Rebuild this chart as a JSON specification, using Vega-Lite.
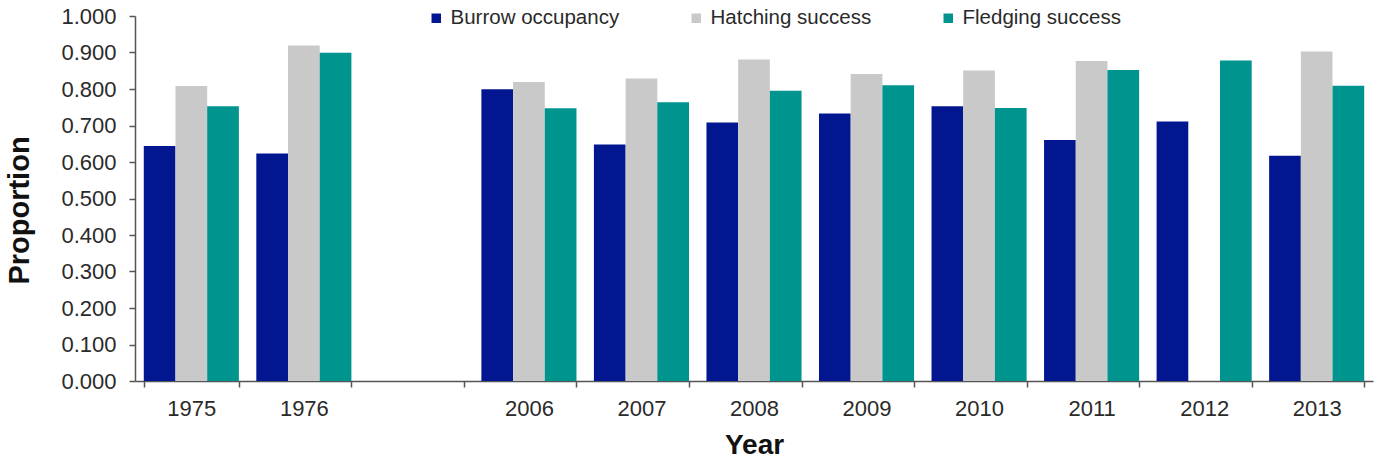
{
  "$schema": "https://vega.github.io/schema/vega-lite/v6.json",
  "autosize": "none",
  "width": 1238,
  "height": 365,
  "padding": {"left": 135, "top": 16, "right": 2, "bottom": 81},
  "background": "white",
  "config": {
    "font": "Liberation Sans",
    "view": {"stroke": null}
  },
  "data": {
    "values": [
      {"year": "1975", "series": "Burrow occupancy", "value": 0.644},
      {"year": "1975", "series": "Hatching success", "value": 0.808},
      {"year": "1975", "series": "Fledging success", "value": 0.753},
      {"year": "1976", "series": "Burrow occupancy", "value": 0.623},
      {"year": "1976", "series": "Hatching success", "value": 0.919},
      {"year": "1976", "series": "Fledging success", "value": 0.899},
      {"year": "2006", "series": "Burrow occupancy", "value": 0.799},
      {"year": "2006", "series": "Hatching success", "value": 0.819},
      {"year": "2006", "series": "Fledging success", "value": 0.747},
      {"year": "2007", "series": "Burrow occupancy", "value": 0.648},
      {"year": "2007", "series": "Hatching success", "value": 0.829},
      {"year": "2007", "series": "Fledging success", "value": 0.764},
      {"year": "2008", "series": "Burrow occupancy", "value": 0.708},
      {"year": "2008", "series": "Hatching success", "value": 0.881},
      {"year": "2008", "series": "Fledging success", "value": 0.795},
      {"year": "2009", "series": "Burrow occupancy", "value": 0.733},
      {"year": "2009", "series": "Hatching success", "value": 0.841},
      {"year": "2009", "series": "Fledging success", "value": 0.810},
      {"year": "2010", "series": "Burrow occupancy", "value": 0.753},
      {"year": "2010", "series": "Hatching success", "value": 0.851},
      {"year": "2010", "series": "Fledging success", "value": 0.748},
      {"year": "2011", "series": "Burrow occupancy", "value": 0.660},
      {"year": "2011", "series": "Hatching success", "value": 0.877},
      {"year": "2011", "series": "Fledging success", "value": 0.852},
      {"year": "2012", "series": "Burrow occupancy", "value": 0.711},
      {"year": "2012", "series": "Fledging success", "value": 0.878},
      {"year": "2013", "series": "Burrow occupancy", "value": 0.617},
      {"year": "2013", "series": "Hatching success", "value": 0.903},
      {"year": "2013", "series": "Fledging success", "value": 0.809}
    ]
  },
  "mark": {"type": "bar"},
  "encoding": {
    "x": {
      "field": "year",
      "type": "nominal",
      "scale": {
        "domain": ["1975", "1976", " ", "2006", "2007", "2008", "2009", "2010", "2011", "2012", "2013"],
        "paddingInner": 0.155,
        "paddingOuter": 0.078
      },
      "axis": {
        "title": "Year",
        "titleFont": "Liberation Sans",
        "titleFontSize": 28,
        "titleFontWeight": "bold",
        "titleColor": "#111",
        "titleBaseline": "top",
        "titleY": 50,
        "labelAngle": 0,
        "labelFontSize": 22,
        "labelColor": "#2a2a2a",
        "labelPadding": 11,
        "tickBand": "extent",
        "tickSize": 6,
        "tickColor": "#555",
        "domainColor": "#555",
        "domainWidth": 1.5,
        "tickWidth": 1.5
      }
    },
    "xOffset": {
      "field": "series",
      "type": "nominal",
      "scale": {"domain": ["Burrow occupancy", "Hatching success", "Fledging success"], "paddingInner": 0, "paddingOuter": 0}
    },
    "y": {
      "field": "value",
      "type": "quantitative",
      "scale": {"domain": [0, 1], "nice": false},
      "axis": {
        "title": "Proportion",
        "titleFont": "Liberation Sans",
        "titleFontSize": 29,
        "titleFontWeight": "bold",
        "titleColor": "#111",
        "titleX": -101,
        "titleY": 194,
        "values": [0, 0.1, 0.2, 0.3, 0.4, 0.5, 0.6, 0.7, 0.8, 0.9, 1.0],
        "format": ".3f",
        "labelFontSize": 22,
        "labelColor": "#2a2a2a",
        "labelPadding": 13,
        "tickSize": 6,
        "tickColor": "#555",
        "tickWidth": 1.5,
        "domainColor": "#555",
        "domainWidth": 1.5,
        "grid": false
      }
    },
    "color": {
      "field": "series",
      "type": "nominal",
      "scale": {
        "domain": ["Burrow occupancy", "Hatching success", "Fledging success"],
        "range": ["#02168F", "#C9C9C9", "#00948F"]
      },
      "legend": {
        "title": null,
        "orient": "none",
        "direction": "horizontal",
        "legendX": 291,
        "legendY": -8,
        "symbolType": "square",
        "symbolSize": 90,
        "symbolStrokeWidth": 0,
        "labelFontSize": 20.5,
        "labelColor": "#2a2a2a",
        "labelOffset": 4,
        "columnPadding": 66,
        "gridAlign": "none",
        "labelLimit": 400
      }
    }
  }
}
